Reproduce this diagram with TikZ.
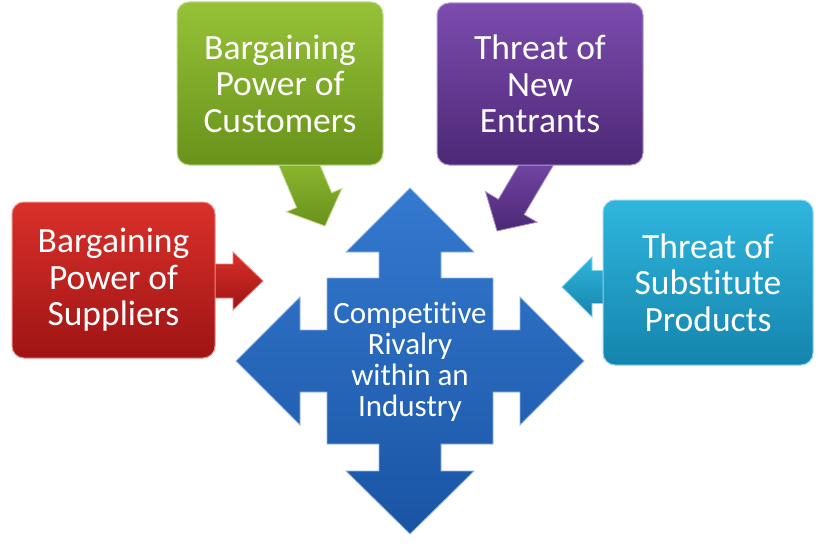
\documentclass[tikz,border=0pt]{standalone}
\usepackage{fontspec}
\setmainfont[RawFeature={-liga;-clig;-dlig;-calt}]{Carlito}
\usetikzlibrary{calc}
\definecolor{redT}{RGB}{218,48,42}
\definecolor{redB}{RGB}{158,20,20}
\definecolor{grnT}{RGB}{150,194,56}
\definecolor{grnB}{RGB}{104,146,26}
\definecolor{purT}{RGB}{124,76,174}
\definecolor{purB}{RGB}{76,40,118}
\definecolor{cyaT}{RGB}{48,182,222}
\definecolor{cyaB}{RGB}{20,132,172}
\definecolor{bluT}{RGB}{52,122,208}
\definecolor{bluB}{RGB}{26,84,164}
\tikzset{
  box/.style={rectangle, rounded corners=12pt, text=white, align=center,
    font=\fontsize{35.5}{36.5}\selectfont, inner sep=0pt, line width=1pt,
    minimum width=204pt, minimum height=160pt},
  barrow/.style={line width=0.8pt, line join=miter},
  rivaltext/.style={text=white, align=center, font=\fontsize{31}{31}\selectfont, inner sep=0pt}
}
% #1 style, #2 start coord, #3 tip coord, #4 head length, #5 head half width, #6 shaft half width
\newcommand\blockarrow[6]{%
  \coordinate (#3h) at ($(#3)!#4!(#2)$);
  \path[#1] ($(#2)!#6!90:(#3)$) -- ($(#3h)!#6!90:(#3)$) -- ($(#3h)!#5!90:(#3)$)
    -- (#3) -- ($(#3h)!#5!-90:(#3)$) -- ($(#3h)!#6!-90:(#3)$) -- ($(#2)!#6!-90:(#3)$) -- cycle;
}
\begin{document}
\begin{tikzpicture}[x=1pt,y=-1pt]
\fill[white] (0,0) rectangle (818,543);
\useasboundingbox (0,0) rectangle (818,543);

% arrow anchors
\coordinate (rS) at (195,281);
\coordinate (rT) at (263,281);
\coordinate (cS) at (625,287);
\coordinate (cT) at (562,287);
\coordinate (gS) at (293,150);
\coordinate (gT) at (325,226);
\coordinate (pS) at (545,150);
\coordinate (pT) at (497,231);

\blockarrow{barrow, top color=redT, bottom color=redB, draw=redT!60!white}{rS}{rT}{30pt}{29pt}{17pt}
\blockarrow{barrow, top color=cyaT, bottom color=cyaB, draw=cyaT!60!white}{cS}{cT}{30pt}{30pt}{16.5pt}
\blockarrow{barrow, top color=grnT, bottom color=grnB, draw=grnT!60!white}{gS}{gT}{28pt}{30pt}{19pt}
\blockarrow{barrow, top color=purT, bottom color=purB, draw=purT!60!white}{pS}{pT}{28pt}{30pt}{15pt}

% boxes
\node[box, minimum width=203pt, minimum height=156pt, top color=redT, bottom color=redB, draw=redT!55!white]
  (sup) at (113.5,280) {Bargaining\\Power of\\Suppliers};
\node[box, minimum width=206pt, minimum height=163pt, top color=grnT, bottom color=grnB, draw=grnT!55!white]
  (cus) at (280,83.5) {Bargaining\\Power of\\Customers};
\node[box, minimum width=206pt, minimum height=162pt, top color=purT, bottom color=purB, draw=purT!55!white]
  (new) at (540,84) {Threat of\\New\\Entrants};
\node[box, minimum width=210pt, minimum height=165pt, top color=cyaT, bottom color=cyaB, draw=cyaT!55!white]
  (subs) at (708,282.5) {Threat of\\Substitute\\Products};

% central four-way arrow
\begin{scope}[shift={(410,361)}]
\path[top color=bluT, bottom color=bluB, draw=bluT!55!white, line width=0.8pt, line join=miter]
  (0,-173) -- (64,-109) -- (31,-109) -- (31,-83) -- (83,-83) -- (83,-31) -- (110,-31) -- (110,-64)
  -- (174,0) -- (110,64) -- (110,31) -- (83,31) -- (83,83) -- (31,83) -- (31,110) -- (64,110)
  -- (0,173) -- (-64,110) -- (-31,110) -- (-31,83) -- (-83,83) -- (-83,31) -- (-110,31) -- (-110,64)
  -- (-174,0) -- (-110,-64) -- (-110,-31) -- (-83,-31) -- (-83,-83) -- (-31,-83) -- (-31,-109) -- (-64,-109) -- cycle;
\end{scope}
\node[rivaltext] (riv) at (410,362) {Competitive\\Rivalry\\within an\\Industry};
\end{tikzpicture}
\end{document}
